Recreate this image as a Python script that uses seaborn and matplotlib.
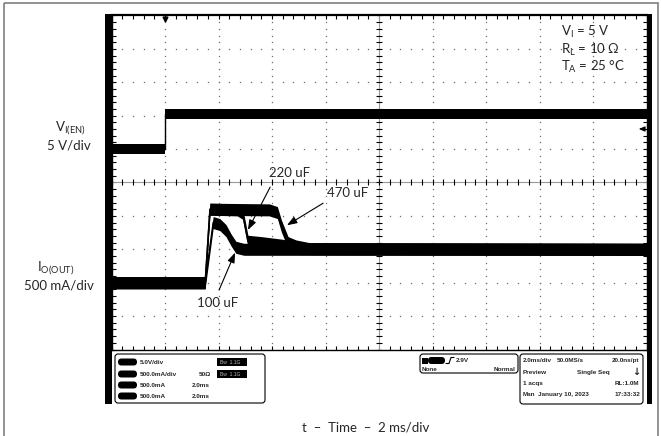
import numpy as np
import pandas as pd
import matplotlib
matplotlib.use('Agg')
import matplotlib.pyplot as plt
import seaborn as sns
from matplotlib.patches import FancyBboxPatch, Rectangle
from matplotlib.ticker import MultipleLocator

# Enable voltage trace (time in ms, volts)
t_en = [0, 2.0, 2.0, 20]
v_en = [0, 0, 5.2, 5.2]

# Output current traces (time in ms, amps)
t_100 = [0, 3.50, 3.80, 4.05, 4.28, 4.47, 4.65, 4.95, 20]
i_100 = [0, 0, 0.90, 0.87, 0.78, 0.64, 0.53, 0.50, 0.50]
t_220 = [0, 3.50, 3.68, 4.70, 4.90, 5.10, 5.60, 6.40, 7.00, 20]
i_220 = [0, 0, 1.10, 1.09, 1.04, 0.62, 0.60, 0.56, 0.51, 0.50]
t_470 = [0, 3.50, 3.68, 5.90, 6.20, 6.35, 6.60, 6.90, 7.40, 20]
i_470 = [0, 0, 1.10, 1.09, 1.05, 0.85, 0.60, 0.55, 0.51, 0.50]
caps = ['100 uF', '220 uF', '470 uF']

cur = pd.concat([pd.DataFrame({'t': t, 'I': i, 'cap': c})
                 for t, i, c in zip([t_100, t_220, t_470], [i_100, i_220, i_470], caps)])

sns.set_style('white')
plt.rcParams['font.family'] = ['Lato', 'DejaVu Sans']
plt.rcParams['mathtext.default'] = 'regular'

W, H = 661, 436
fig = plt.figure(figsize=(W / 100, H / 100), dpi=100)
x0, x1, y0, y1 = 111.5, 646.5, 15.5, 349.5
ax = fig.add_axes([x0 / W, 1 - y1 / H, (x1 - x0) / W, (y1 - y0) / H])

# channel scales: 5 V/div with 0 V at div 6, 500 mA/div with 0 A at div 2
ax_v = ax.twinx()
ax_i = ax.twinx()

# graticule
xmin = np.arange(0, 20.001, 0.4)
ymin = np.arange(0, 10.001, 0.2)
dot = dict(ls='none', marker='s', ms=0.9, mew=0, color='#6f6f6f')
for gx in [2, 4, 6, 8, 12, 14, 16, 18]:
    ax.plot(np.full_like(ymin, gx), ymin, **dot)
for gy in [1, 2, 3, 4, 6, 7, 8, 9]:
    ax.plot(xmin, np.full_like(xmin, gy), **dot)
ax.axvline(10, color='#9a9a9a', lw=0.8)
ax.axhline(5, color='#9a9a9a', lw=0.8)
ax.plot(xmin, np.full_like(xmin, 5), ls='none', marker='|', ms=4, mew=0.8, color='black')
ax.plot(np.full_like(ymin, 10), ymin, ls='none', marker='_', ms=4, mew=0.8, color='black')

ax.xaxis.set_major_locator(MultipleLocator(2))
ax.xaxis.set_minor_locator(MultipleLocator(0.4))
ax.yaxis.set_major_locator(MultipleLocator(1))
ax.yaxis.set_minor_locator(MultipleLocator(0.2))
ax.tick_params(which='both', direction='in', length=3, width=0.8, color='black',
               top=True, right=True, bottom=True, left=True,
               labelbottom=False, labelleft=False, labelright=False)
for side, s in ax.spines.items():
    s.set_color('black')
    s.set_linewidth(1.6 if side == 'top' else 1.0)

# traces
band_v = 0.75
band_i = 0.09
ax_v.fill_between(t_en, np.array(v_en) - band_v, np.array(v_en) + band_v, color='black', lw=0)
sns.lineplot(x=t_en, y=v_en, ax=ax_v, color='black', lw=1, estimator=None, sort=False)

for c, g in cur.groupby('cap'):
    ax_i.fill_between(g['t'], g['I'] - band_i, g['I'] + band_i, color='black', lw=0)
sns.lineplot(data=cur, x='t', y='I', units='cap', estimator=None, sort=False,
             color='black', lw=1, ax=ax_i, legend=False)

# trigger marker
ax.plot([t_en[1]], [9.9], marker='v', ms=3.5, color='black', clip_on=False)

arrow = dict(arrowstyle='-|>,head_length=0.6,head_width=0.22', color='black', lw=0.8,
             shrinkA=0, shrinkB=0)
ax_i.annotate('', xy=(5.10, 0.79), xytext=(5.93, 1.43), arrowprops=arrow)
ax_i.annotate('', xy=(6.56, 0.86), xytext=(7.91, 1.19), arrowprops=arrow)
ax_i.annotate('', xy=(4.62, 0.45), xytext=(4.02, -0.11), arrowprops=arrow)
ax_i.text(6.67, 1.64, '220 uF', ha='center', va='center', fontsize=9.5)
ax_i.text(8.84, 1.34, '470 uF', ha='center', va='center', fontsize=9.5)
ax_i.text(3.98, -0.30, '100 uF', ha='center', va='center', fontsize=9.5)

for a in (ax_v, ax_i):
    a.axis('off')
ax.set_xlim(0, 20)
ax.set_ylim(0, 10)
ax_v.set_ylim(-30, 20)
ax_i.set_ylim(-1, 4)

# overlay in pixel units for the scope frame and labels
ov = fig.add_axes([0, 0, 1, 1])
ov.set_xlim(0, W)
ov.set_ylim(H, 0)
ov.axis('off')

ov.add_patch(Rectangle((3.5, 3.5), 654, 445, fill=False, ec='#7f7f7f', lw=1.2, clip_on=True))
ov.add_patch(Rectangle((105, 14), 6.5, 389.5, fc='black', lw=0))
ov.add_patch(Rectangle((646.5, 14), 5.5, 389.5, fc='black', lw=0))

ov.text(70, 128, r'$V_{I(EN)}$', ha='center', va='center', fontsize=9.5)
ov.text(69, 145, '5 V/div', ha='center', va='center', fontsize=9.5)
ov.text(56, 268, r'$I_{O(OUT)}$', ha='center', va='center', fontsize=9.5)
ov.text(59, 285, '500 mA/div', ha='center', va='center', fontsize=9.5)

ov.text(561, 32, r'$V_I$ = 5 V', ha='left', va='center', fontsize=9.5)
ov.text(561, 50, r'$R_L$ = 10 Ω', ha='left', va='center', fontsize=9.5)
ov.text(561, 67, r'$T_A$ = 25 °C', ha='left', va='center', fontsize=9.5)
ov.text(366, 427, 't  –  Time  –  2 ms/div', ha='center', va='center', fontsize=9.5)

ov.annotate('', xy=(636, 129), xytext=(645, 129),
            arrowprops=dict(arrowstyle='-|>,head_length=0.35,head_width=0.15', color='black', lw=0.8))


def box(x, y, w, h, r=3, **kw):
    ov.add_patch(FancyBboxPatch((x, y), w, h, boxstyle=f'round,pad=0,rounding_size={r}', **kw))


small = dict(fontsize=4.6, fontweight='bold', family='Liberation Sans', va='center')

# left channel box
box(115, 354, 150, 49, ec='black', fc='white', lw=0.8)
rows = [362, 374, 385, 396]
for ry, txt in zip(rows, ['5.0V/div', '500.0mA/div', '500.0mA', '500.0mA']):
    box(118, ry - 3.5, 19, 7, r=3.5, fc='black', lw=0)
    ov.text(140, ry, txt, ha='left', **small)
ov.text(211, rows[1], '50Ω', ha='right', **small)
ov.text(192, rows[2], '2.0ms', ha='left', **small)
ov.text(192, rows[3], '2.0ms', ha='left', **small)
for ry in rows[:2]:
    ov.add_patch(Rectangle((217, ry - 4), 30, 8, fc='black', lw=0))
    ov.text(220, ry, 'Bw  1.1G', ha='left', color='#bbbbbb', fontsize=3.6, family='Liberation Sans', va='center')

# trigger box
box(420, 354, 98, 19, ec='black', fc='white', lw=0.8)
ov.add_patch(Rectangle((422, 357.5), 6, 6, fc='black', lw=0))
box(428, 357, 17, 7, r=3.5, fc='black', lw=0)
ov.plot([446, 449, 451, 454], [363.5, 363.5, 357.5, 357.5], color='black', lw=0.8)
ov.text(456, 360.5, '2.9V', ha='left', **small)
ov.text(422, 369, 'None', ha='left', **small)
ov.text(516, 369, 'Normal', ha='right', **small)

# acquisition box
box(520, 354, 123, 50, ec='black', fc='white', lw=0.8)
ov.text(523, 360, '2.0ms/div', ha='left', **small)
ov.text(557, 360, '50.0MS/s', ha='left', **small)
ov.text(639, 360, '20.0ns/pt', ha='right', **small)
ov.text(523, 372, 'Preview', ha='left', **small)
ov.text(577, 372, 'Single Seq', ha='left', **small)
ov.text(636, 372, '↓', ha='center', fontsize=7, fontweight='bold', family='DejaVu Sans', va='center')
ov.text(523, 383, '1 acqs', ha='left', **small)
ov.text(639, 383, 'RL:1.0M', ha='right', **small)
ov.text(523, 394, 'Man', ha='left', **small)
ov.text(538, 394, 'January 10, 2023', ha='left', **small)
ov.text(640, 394, '17:33:32', ha='right', **small)

fig.savefig('out.png', dpi=100)
